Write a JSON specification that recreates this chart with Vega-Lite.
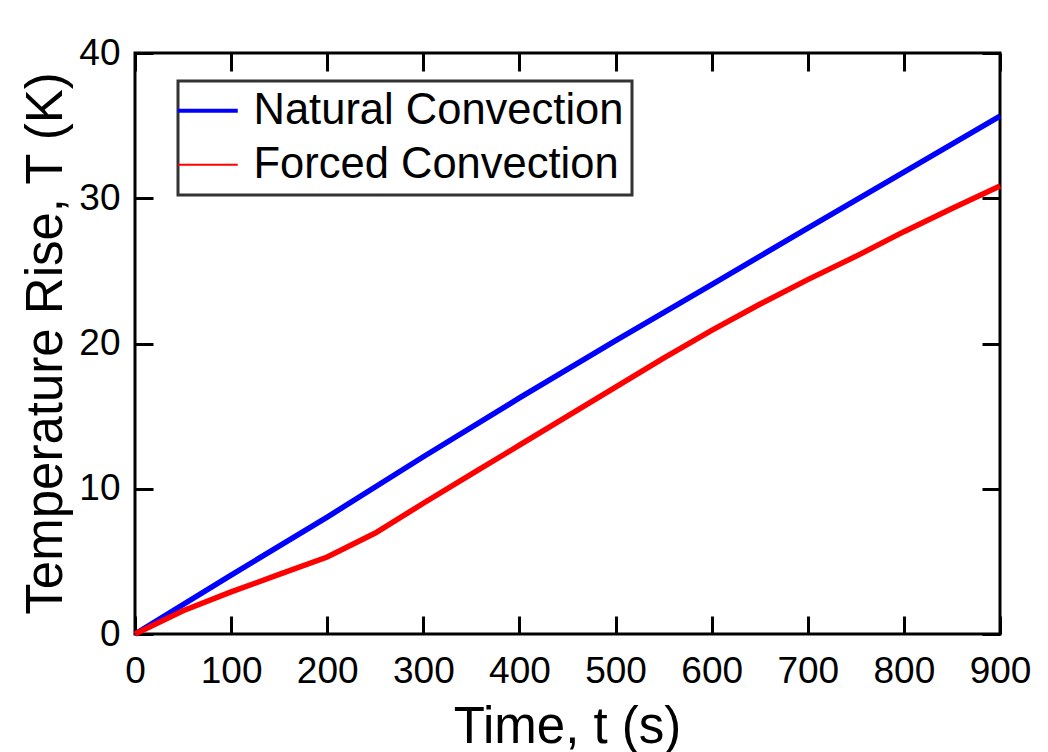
{
  "$schema": "https://vega.github.io/schema/vega-lite/v6.json",
  "width": 865,
  "height": 581,
  "autosize": {"type": "none"},
  "padding": {"left": 135, "top": 53, "right": 48, "bottom": 118},
  "background": "white",
  "config": {
    "font": "Liberation Sans",
    "view": {"stroke": "black", "strokeWidth": 3},
    "axis": {
      "grid": false,
      "domain": false,
      "tickColor": "black",
      "tickWidth": 3,
      "tickSize": -18,
      "labelColor": "black",
      "labelFont": "Liberation Sans",
      "labelFontSize": 37,
      "labelFlush": false,
      "labelOverlap": false,
      "titleColor": "black",
      "titleFont": "Liberation Sans",
      "titleFontSize": 51,
      "titleFontWeight": "normal"
    }
  },
  "data": {
    "values": [
      {"t": 0, "T": 0, "series": "Natural Convection"},
      {"t": 100, "T": 4.05, "series": "Natural Convection"},
      {"t": 200, "T": 8.05, "series": "Natural Convection"},
      {"t": 300, "T": 12.2, "series": "Natural Convection"},
      {"t": 400, "T": 16.25, "series": "Natural Convection"},
      {"t": 500, "T": 20.2, "series": "Natural Convection"},
      {"t": 600, "T": 24.05, "series": "Natural Convection"},
      {"t": 700, "T": 27.95, "series": "Natural Convection"},
      {"t": 800, "T": 31.8, "series": "Natural Convection"},
      {"t": 900, "T": 35.65, "series": "Natural Convection"},
      {"t": 0, "T": 0, "series": "Forced Convection"},
      {"t": 50, "T": 1.6, "series": "Forced Convection"},
      {"t": 100, "T": 2.9, "series": "Forced Convection"},
      {"t": 150, "T": 4.1, "series": "Forced Convection"},
      {"t": 200, "T": 5.3, "series": "Forced Convection"},
      {"t": 250, "T": 6.95, "series": "Forced Convection"},
      {"t": 300, "T": 9.0, "series": "Forced Convection"},
      {"t": 350, "T": 11.0, "series": "Forced Convection"},
      {"t": 400, "T": 13.0, "series": "Forced Convection"},
      {"t": 450, "T": 15.0, "series": "Forced Convection"},
      {"t": 500, "T": 17.0, "series": "Forced Convection"},
      {"t": 550, "T": 19.0, "series": "Forced Convection"},
      {"t": 600, "T": 20.9, "series": "Forced Convection"},
      {"t": 650, "T": 22.7, "series": "Forced Convection"},
      {"t": 700, "T": 24.4, "series": "Forced Convection"},
      {"t": 750, "T": 26.0, "series": "Forced Convection"},
      {"t": 800, "T": 27.7, "series": "Forced Convection"},
      {"t": 850, "T": 29.3, "series": "Forced Convection"},
      {"t": 900, "T": 30.84, "series": "Forced Convection"}
    ]
  },
  "layer": [
    {
      "mark": {"type": "line", "strokeWidth": 5.5},
      "encoding": {
        "x": {
          "field": "t",
          "type": "quantitative",
          "scale": {"domain": [0, 900], "nice": false},
          "axis": {
            "orient": "bottom",
            "values": [0, 100, 200, 300, 400, 500, 600, 700, 800, 900],
            "labelPadding": 37,
            "title": "Time, t (s)",
            "titleX": 432,
            "titleY": 108,
            "titleBaseline": "alphabetic",
            "titleAlign": "center"
          }
        },
        "y": {
          "field": "T",
          "type": "quantitative",
          "scale": {"domain": [0, 40], "nice": false},
          "axis": {
            "orient": "left",
            "values": [0, 10, 20, 30, 40],
            "labelPadding": 33,
            "title": "Temperature Rise, T (K)",
            "titleX": -74,
            "titleY": 290,
            "titleAngle": 270,
            "titleBaseline": "alphabetic",
            "titleAlign": "center"
          }
        },
        "color": {
          "field": "series",
          "type": "nominal",
          "sort": ["Natural Convection", "Forced Convection"],
          "scale": {"domain": ["Natural Convection", "Forced Convection"], "range": ["#0000ff", "#ff0000"]},
          "legend": {
            "orient": "none",
            "legendX": 43,
            "legendY": 28,
            "title": null,
            "symbolType": "stroke",
            "symbolSize": 3600,
            "symbolStrokeWidth": 4,
            "labelFontSize": 43.5,
            "labelFont": "Liberation Sans",
            "labelColor": "black",
            "labelLimit": 0,
            "labelOffset": 24,
            "padding": 8,
            "rowPadding": 9,
            "strokeColor": "#333333",
            "fillColor": "white",
            "encode": {
              "legend": {"update": {"strokeWidth": {"value": 3}}},
              "symbols": {"update": {"strokeWidth": {"signal": "datum.value === 'Natural Convection' ? 4 : 2"}}}
            }
          }
        }
      }
    },
    {
      "mark": {"type": "line", "strokeWidth": 5, "opacity": 0},
      "encoding": {
        "x": {
          "field": "t",
          "type": "quantitative",
          "axis": {
            "orient": "top",
            "values": [0, 100, 200, 300, 400, 500, 600, 700, 800, 900],
            "labels": false,
            "title": null
          }
        },
        "y": {
          "field": "T",
          "type": "quantitative",
          "axis": {
            "orient": "right",
            "values": [0, 10, 20, 30, 40],
            "labels": false,
            "title": null
          }
        },
        "detail": {"field": "series", "type": "nominal"}
      }
    }
  ],
  "resolve": {"axis": {"x": "independent", "y": "independent"}}
}
